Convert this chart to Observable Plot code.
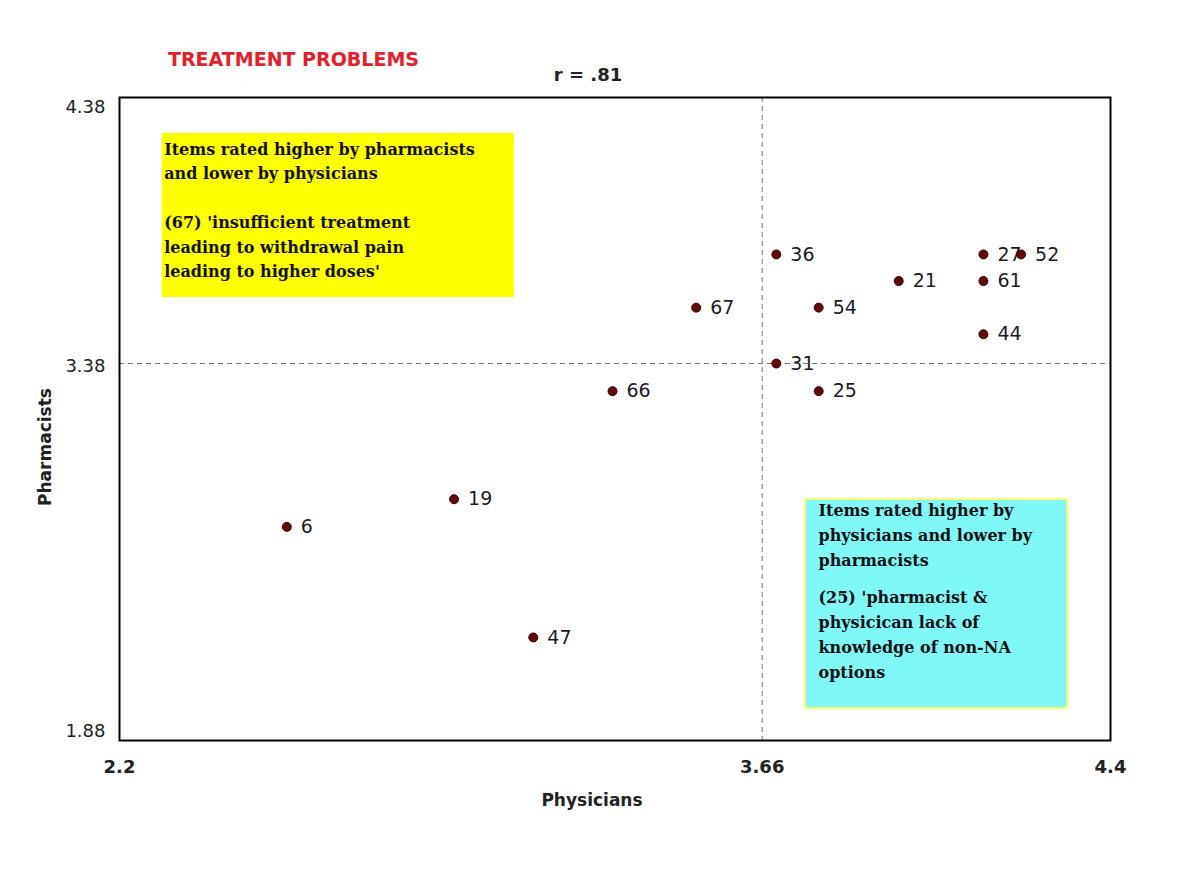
<!DOCTYPE html>
<html>
<head>
<meta charset="utf-8">
<script src="https://cdn.jsdelivr.net/npm/d3@7"></script>
<script src="https://cdn.jsdelivr.net/npm/@observablehq/plot@0.6"></script>
<style>
  html, body { margin: 0; padding: 0; background: #fff; }
</style>
</head>
<body>
<div id="chart"></div>
<script>
// ---- data ----
const itemIds     = ["6", "19", "47", "66", "67", "36", "31", "54", "25", "21", "27", "61", "44", "52"];
const physicians  = [2.58, 2.96, 3.14, 3.32, 3.51, 3.69, 3.69, 3.78, 3.78, 3.95, 4.13, 4.13, 4.13, 4.21];
const pharmacists = [2.73, 2.84, 2.29, 3.27, 3.59, 3.79, 3.38, 3.59, 3.27, 3.69, 3.79, 3.69, 3.49, 3.79];

const xTicks = [2.2, 3.66, 4.4];
const yTicks = [1.88, 3.38, 4.38];
const xMean = 3.66;
const yMean = 3.38;

const title = "TREATMENT PROBLEMS";
const corrText = "r = .81";
const xLabel = "Physicians";
const yLabel = "Pharmacists";

const noteYellow = {x1: 2.297, x2: 3.097, y1: 3.628, y2: 4.245,
  text: "Items rated higher by pharmacists\nand lower by physicians\n\n(67) 'insufficient treatment\nleading to withdrawal pain\nleading to higher doses'"};
const noteCyan = {x1: 3.752, x2: 4.309, y1: 2.007, y2: 2.839,
  head: "Items rated higher by\nphysicians and lower by\npharmacists",
  body: "(25) 'pharmacist &\nphysicican lack of\nknowledge of non-NA\noptions"};

const points = itemIds.map((id, i) => ({id, x: physicians[i], y: pharmacists[i]}));

const W = 1200, H = 886;
const mL = 119, mR = 90, mT = 97, mB = 146;
const plotW = W - mL - mR, plotH = H - mT - mB;

// The original chart's axes are piecewise: each labelled tick (min, mean, max) sits at its own spot.
const xWarp = d3.scaleLinear().domain(xTicks).range([0, 642.7, plotW]);
const yWarp = d3.scaleLinear().domain(yTicks).range([0, 377, plotH]);

const noteFont = {fontSize: 16, fontWeight: "bold", fontFamily: "'DejaVu Serif', serif", fill: "#111",
  textAnchor: "start", lineAnchor: "top"};
const yAxisStyle = {tickSize: 0, tickPadding: 14, fontSize: 18, fill: "#222", label: null, lineAnchor: "middle"};

const plot = Plot.plot({
  width: W,
  height: H,
  marginLeft: mL,
  marginRight: mR,
  marginTop: mT,
  marginBottom: mB,
  style: {fontFamily: "'DejaVu Sans', sans-serif", background: "#fff", overflow: "visible"},
  x: {type: "linear", transform: xWarp, domain: [0, plotW]},
  y: {type: "linear", transform: yWarp, domain: [0, plotH]},
  marks: [
    // annotation boxes
    Plot.rect([noteYellow], {x1: "x1", x2: "x2", y1: "y1", y2: "y2", fill: "#ffff00"}),
    Plot.rect([noteCyan], {x1: "x1", x2: "x2", y1: "y1", y2: "y2", fill: "#80f8f8", stroke: "#ffff70", strokeWidth: 2}),
    Plot.text([noteYellow], {x: "x1", y: "y2", text: "text", dx: 2, dy: 4, lineHeight: 1.53, ...noteFont}),
    Plot.text([noteCyan], {x: "x1", y: "y2", text: "head", dx: 13, dy: -1, lineHeight: 1.56, ...noteFont}),
    Plot.text([noteCyan], {x: "x1", y: "y2", text: "body", dx: 13, dy: 86, lineHeight: 1.56, ...noteFont}),
    // mean lines
    Plot.ruleX([xMean], {stroke: "#777", strokeWidth: 1, strokeDasharray: "5,4"}),
    Plot.ruleY([yMean], {stroke: "#777", strokeWidth: 1, strokeDasharray: "5,4"}),
    // labels then dots
    Plot.text(points, {x: "x", y: "y", text: "id", dx: 14, textAnchor: "start", fontSize: 19, fill: "#1c1c28"}),
    Plot.dot(points, {x: "x", y: "y", r: 4.5, fill: "#620a0a", stroke: "#3d0000", strokeWidth: 1}),
    // frame
    Plot.frame({stroke: "#000", strokeWidth: 2}),
    // axes (tick positions pass through the same piecewise warp as the data)
    Plot.axisX({ticks: xTicks.map(xWarp), tickSize: 0, tickPadding: 20, fontSize: 18, fontWeight: "bold", fill: "#222", label: null,
      tickFormat: (d, i) => String(xTicks[i])}),
    Plot.axisY({ticks: [yWarp(yTicks[2])], dy: 10, tickFormat: () => String(yTicks[2]), ...yAxisStyle}),
    Plot.axisY({ticks: [yWarp(yTicks[1])], dy: 3, tickFormat: () => String(yTicks[1]), ...yAxisStyle}),
    Plot.axisY({ticks: [yWarp(yTicks[0])], dy: -9, tickFormat: () => String(yTicks[0]), ...yAxisStyle}),
    // titles
    Plot.text([title], {frameAnchor: "top-left", dx: 174, dy: -38, text: d => d, fontSize: 19, fontWeight: "bold",
      fill: "#e4202c", textAnchor: "middle", lineAnchor: "middle"}),
    Plot.text([corrText], {frameAnchor: "top", dx: -27, dy: -22, text: d => d, fontSize: 18, fontWeight: "bold",
      fill: "#222", textAnchor: "middle", lineAnchor: "middle"}),
    Plot.text([xLabel], {frameAnchor: "bottom", dx: -23, dy: 60, text: d => d, fontSize: 17, fontWeight: "bold",
      fill: "#222", textAnchor: "middle", lineAnchor: "middle"}),
    Plot.text([yLabel], {frameAnchor: "left", dx: -74, dy: 28, rotate: -90, text: d => d, fontSize: 17, fontWeight: "bold",
      fill: "#222", textAnchor: "middle", lineAnchor: "middle"})
  ]
});
document.getElementById("chart").appendChild(plot);
</script>
</body>
</html>
